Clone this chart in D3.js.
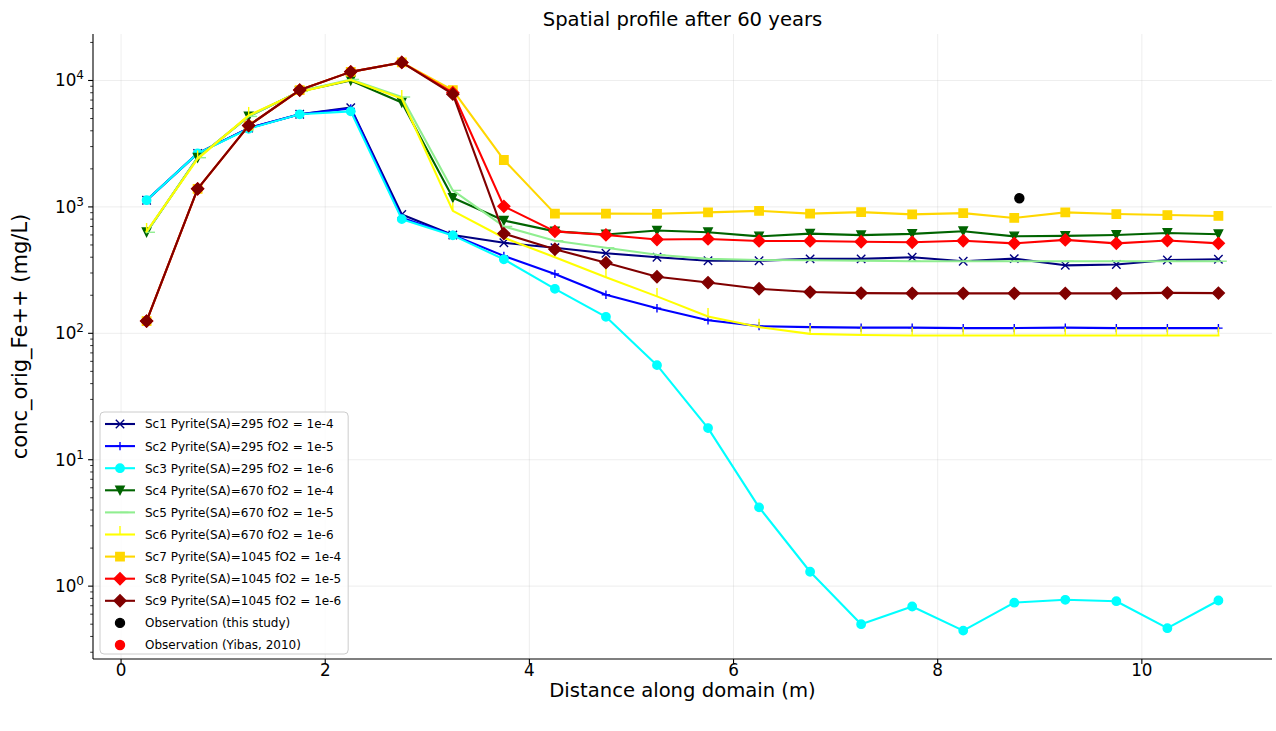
<!DOCTYPE html>
<html>
<head>
<meta charset="utf-8">
<script src="https://cdn.jsdelivr.net/npm/d3@7"></script>
<style>
  body { margin: 0; background: #fff; }
  text { font-family: "DejaVu Sans", sans-serif; fill: #000; }
</style>
</head>
<body>
<svg id="chart" width="1276" height="731"></svg>
<script>
// Sampling positions along the domain (m)
const distance = [0.25, 0.75, 1.25, 1.75, 2.25, 2.75, 3.25, 3.75, 4.25, 4.75, 5.25,
                  5.75, 6.25, 6.75, 7.25, 7.75, 8.25, 8.75, 9.25, 9.75, 10.25, 10.75];

// Fe++ concentration (mg/L) for each scenario
const sc1 = [1130, 2650, 4200, 5400, 6100, 870, 600, 520, 475, 430, 400, 375, 375, 388, 388, 400, 372, 390, 345, 350, 380, 385];
const sc2 = [1130, 2650, 4200, 5400, 6000, 820, 600, 410, 295, 202, 158, 127, 114, 112, 111, 111, 110, 110, 111, 110, 110, 110];
const sc3 = [1130, 2650, 4150, 5400, 5700, 800, 595, 385, 225, 135, 56, 17.8, 4.2, 1.3, 0.50, 0.69, 0.445, 0.74, 0.78, 0.76, 0.465, 0.77];
const sc4 = [630, 2450, 5200, 8200, 10000, 6700, 1180, 780, 640, 605, 650, 630, 585, 615, 598, 612, 642, 585, 590, 600, 622, 608];
const sc5 = [630, 2450, 5200, 8200, 10200, 7400, 1350, 700, 540, 475, 418, 388, 380, 378, 376, 372, 372, 372, 372, 372, 372, 372];
const sc6 = [640, 2400, 5300, 8100, 10100, 7200, 930, 570, 400, 278, 196, 136, 112, 99, 97, 96, 96, 96, 96, 96, 96, 96];
const sc7 = [125, 1390, 4400, 8400, 11700, 13900, 8400, 2350, 885, 885, 882, 905, 930, 885, 910, 872, 893, 818, 905, 878, 862, 848];
const sc8 = [125, 1390, 4400, 8400, 11700, 13900, 8000, 1010, 640, 600, 552, 558, 538, 538, 530, 525, 540, 515, 548, 515, 542, 515];
const sc9 = [125, 1390, 4400, 8400, 11700, 13900, 7800, 615, 462, 362, 280, 252, 225, 212, 208, 207, 207, 207, 207, 207, 209, 208];

// Field observations
const obsThisStudyX = [8.8];
const obsThisStudyY = [1170];
const obsYibasX = [];
const obsYibasY = [];

const seriesLabels = [
  "Sc1 Pyrite(SA)=295 fO2 = 1e-4",
  "Sc2 Pyrite(SA)=295 fO2 = 1e-5",
  "Sc3 Pyrite(SA)=295 fO2 = 1e-6",
  "Sc4 Pyrite(SA)=670 fO2 = 1e-4",
  "Sc5 Pyrite(SA)=670 fO2 = 1e-5",
  "Sc6 Pyrite(SA)=670 fO2 = 1e-6",
  "Sc7 Pyrite(SA)=1045 fO2 = 1e-4",
  "Sc8 Pyrite(SA)=1045 fO2 = 1e-5",
  "Sc9 Pyrite(SA)=1045 fO2 = 1e-6"
];
const obsLabels = ["Observation (this study)", "Observation (Yibas, 2010)"];

const xTickValues = [0, 2, 4, 6, 8, 10];
const yTickExponents = [0, 1, 2, 3, 4];

const titleText = "Spatial profile after 60 years";
const xLabelText = "Distance along domain (m)";
const yLabelText = "conc_orig_Fe++ (mg/L)";

// ---- styling ----
const seriesValues = [sc1, sc2, sc3, sc4, sc5, sc6, sc7, sc8, sc9];
const seriesColors = ["#000080", "#0000ff", "#00ffff", "#006400", "#90ee90", "#ffff00", "#ffd700", "#ff0000", "#800000"];
const seriesMarkers = ["x", "+", "o", "v", "tickright", "tickup", "s", "D", "D"];

const plot = { left: 93, right: 1272, top: 34, bottom: 659 };
const MS = 8.4;      // marker size (px)
const LW = 2.1;      // line width

const svg = d3.select("#chart");

// x: linear with 5% margins around the data span
const xMin = d3.min(distance), xMax = d3.max(distance);
const xPad = (xMax - xMin) * 0.05;
const x = d3.scaleLinear().domain([xMin - xPad, xMax + xPad]).range([plot.left, plot.right]);

// y: log with 5% margins (in decades) around all plotted values
const allY = seriesValues.flat().concat(obsThisStudyY, obsYibasY);
const lmin = Math.log10(d3.min(allY)), lmax = Math.log10(d3.max(allY));
const lpad = (lmax - lmin) * 0.05;
const y = d3.scaleLog().domain([Math.pow(10, lmin - lpad), Math.pow(10, lmax + lpad)]).range([plot.bottom, plot.top]);

// ---- grid ----
const grid = svg.append("g").attr("stroke", "#b0b0b0").attr("stroke-opacity", 0.22).attr("stroke-width", 1);
xTickValues.forEach(v => grid.append("line").attr("x1", x(v)).attr("x2", x(v)).attr("y1", plot.top).attr("y2", plot.bottom));
yTickExponents.forEach(e => grid.append("line").attr("x1", plot.left).attr("x2", plot.right).attr("y1", y(Math.pow(10, e))).attr("y2", y(Math.pow(10, e))));

// ---- markers ----
function markerPath(type, s) {
  const h = s / 2;
  switch (type) {
    case "x": return `M${-h},${-h}L${h},${h}M${-h},${h}L${h},${-h}`;
    case "+": return `M${-h},0L${h},0M0,${-h}L0,${h}`;
    case "o": return `M${h},0A${h},${h} 0 1,1 ${-h},0A${h},${h} 0 1,1 ${h},0Z`;
    case "v": return `M0,${h}L${-h},${-h}L${h},${-h}Z`;
    case "s": return `M${-h},${-h}H${h}V${h}H${-h}Z`;
    case "D": { const d = s * Math.SQRT1_2; return `M0,${-d}L${d},0L0,${d}L${-d},0Z`; }
    case "tickright": return `M0,0H${s}`;
    case "tickup": return `M0,0V${-s}`;
  }
  return "";
}
const strokeOnly = new Set(["x", "+", "tickright", "tickup"]);

function drawMarker(g, type, color, cx, cy, s) {
  const p = g.append("path").attr("d", markerPath(type, s)).attr("transform", `translate(${cx},${cy})`);
  if (strokeOnly.has(type)) {
    p.attr("fill", "none").attr("stroke", color).attr("stroke-width", 1.4);
  } else {
    p.attr("fill", color).attr("stroke", color).attr("stroke-width", 1.4).attr("stroke-linejoin", "miter");
  }
}

const clipId = "plot-clip";
svg.append("clipPath").attr("id", clipId).append("rect")
  .attr("x", plot.left).attr("y", plot.top).attr("width", plot.right - plot.left).attr("height", plot.bottom - plot.top);

const dataLayer = svg.append("g").attr("clip-path", `url(#${clipId})`);
const line = d3.line().x(d => x(d[0])).y(d => y(d[1]));

seriesValues.forEach((vals, i) => {
  const pts = distance.map((d, k) => [d, vals[k]]);
  const g = dataLayer.append("g");
  g.append("path").datum(pts).attr("d", line)
    .attr("fill", "none").attr("stroke", seriesColors[i]).attr("stroke-width", LW)
    .attr("stroke-linejoin", "round").attr("stroke-linecap", "square");
  pts.forEach(p => drawMarker(g, seriesMarkers[i], seriesColors[i], x(p[0]), y(p[1]), MS));
});

// observations
obsThisStudyX.forEach((v, k) => drawMarker(dataLayer, "o", "#000000", x(v), y(obsThisStudyY[k]), 9));
obsYibasX.forEach((v, k) => drawMarker(dataLayer, "o", "#ff0000", x(v), y(obsYibasY[k]), 9));

// ---- axes ----
const axisColor = "#000";
// left spine + ticks
const yAxisG = svg.append("g");
yAxisG.append("line").attr("x1", plot.left).attr("x2", plot.left).attr("y1", plot.top).attr("y2", plot.bottom)
  .attr("stroke", axisColor).attr("stroke-width", 1.1);
const [yLo, yHi] = y.domain();
const minorVals = [];
for (let e = Math.floor(Math.log10(yLo)); e <= Math.ceil(Math.log10(yHi)); e++) {
  for (let m = 2; m <= 9; m++) {
    const v = m * Math.pow(10, e);
    if (v >= yLo && v <= yHi) minorVals.push(v);
  }
}
minorVals.forEach(v => yAxisG.append("line").attr("x1", plot.left - 2.8).attr("x2", plot.left)
  .attr("y1", y(v)).attr("y2", y(v)).attr("stroke", axisColor).attr("stroke-width", 0.8));
yTickExponents.forEach(e => {
  const yy = y(Math.pow(10, e));
  yAxisG.append("line").attr("x1", plot.left - 4.9).attr("x2", plot.left).attr("y1", yy).attr("y2", yy)
    .attr("stroke", axisColor).attr("stroke-width", 1.1);
  const t = yAxisG.append("text").attr("x", plot.left - 9).attr("y", yy + 6).attr("text-anchor", "end")
    .attr("font-size", 16.8);
  t.append("tspan").text("10");
  t.append("tspan").attr("dy", -7).attr("font-size", 12).text(e);
});

// bottom spine + ticks
const xAxisG = svg.append("g");
xAxisG.append("line").attr("x1", plot.left).attr("x2", plot.right).attr("y1", plot.bottom).attr("y2", plot.bottom)
  .attr("stroke", axisColor).attr("stroke-width", 1.1);
xTickValues.forEach(v => {
  xAxisG.append("line").attr("x1", x(v)).attr("x2", x(v)).attr("y1", plot.bottom).attr("y2", plot.bottom + 4.9)
    .attr("stroke", axisColor).attr("stroke-width", 1.1);
  xAxisG.append("text").attr("x", x(v)).attr("y", plot.bottom + 17).attr("text-anchor", "middle")
    .attr("font-size", 16.8).text(v);
});

// ---- titles ----
svg.append("text").attr("x", (plot.left + plot.right) / 2).attr("y", 26).attr("text-anchor", "middle")
  .attr("font-size", 19.6).text(titleText);
svg.append("text").attr("x", (plot.left + plot.right) / 2).attr("y", 697).attr("text-anchor", "middle")
  .attr("font-size", 19.6).text(xLabelText);
svg.append("text").attr("transform", `translate(27,${(plot.top + plot.bottom) / 2 - 10}) rotate(-90)`)
  .attr("text-anchor", "middle").attr("font-size", 21).text(yLabelText);

// ---- legend ----
const legendEntries = seriesLabels.map((lab, i) => ({ label: lab, color: seriesColors[i], marker: seriesMarkers[i], line: true }))
  .concat([
    { label: obsLabels[0], color: "#000000", marker: "o", line: false },
    { label: obsLabels[1], color: "#ff0000", marker: "o", line: false }
  ]);
const lg = svg.append("g");
const fs = 12, rowH = 22.1;
const lgX = 100, lgTop = 412, lgBottom = 654;
const pad = 5;
const firstRow = 424;
const box = lg.append("rect").attr("x", lgX).attr("y", lgTop).attr("rx", 4).attr("ry", 4)
  .attr("height", lgBottom - lgTop).attr("fill", "#fff").attr("fill-opacity", 0.8)
  .attr("stroke", "#cccccc").attr("stroke-width", 1);
let maxW = 0;
legendEntries.forEach((e, i) => {
  const cy = firstRow + i * rowH;
  const hx0 = lgX + 5, hx1 = hx0 + 30, hmid = (hx0 + hx1) / 2;
  if (e.line) {
    lg.append("line").attr("x1", hx0).attr("x2", hx1).attr("y1", cy).attr("y2", cy)
      .attr("stroke", e.color).attr("stroke-width", LW);
  }
  drawMarker(lg, e.marker, e.color, hmid, cy, e.line ? MS : 9);
  const t = lg.append("text").attr("x", 145).attr("y", cy + 4.4).attr("font-size", fs).text(e.label);
  maxW = Math.max(maxW, t.node().getComputedTextLength());
});
box.attr("width", 145 - lgX + maxW + 7);
</script>
</body>
</html>
